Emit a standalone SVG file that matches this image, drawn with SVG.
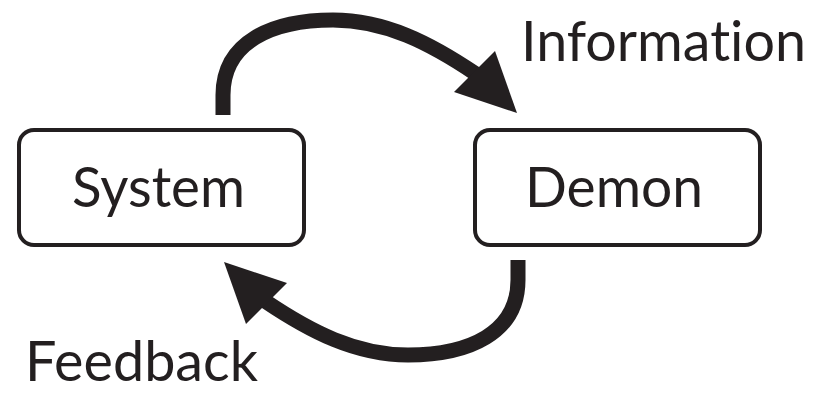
<svg xmlns="http://www.w3.org/2000/svg" width="815" height="393" viewBox="0 0 815 393">
<style>
.box{fill:#fff;stroke:#231f20;stroke-width:4}
.lbl{font-family:Lato,"Open Sans","Liberation Sans",sans-serif;font-size:56px;fill:#231f20;font-variant-ligatures:none;font-feature-settings:"liga" 0,"clig" 0,"dlig" 0}
.shaft{fill:none;stroke:#231f20;stroke-width:15}
.head{fill:#231f20}
</style>
<rect width="815" height="393" fill="#fff"/>
<g id="connectors">
<g id="information-arrow">
<path class="shaft" d="M223,115 L223,95 C223,42 272,20 333,20 C385,20 430,43 476,74"/>
<polygon class="head" points="517,113 495,51 454,92"/>
</g>
<g id="feedback-arrow">
<path class="shaft" d="M518,260 L518,280 C518,333 469,355 408,355 C356,355 311,332 265,301"/>
<polygon class="head" points="224,262 246,324 287,283"/>
</g>
<text class="lbl" x="521" y="61" textLength="285" lengthAdjust="spacingAndGlyphs">Information</text>
<text class="lbl" x="25" y="381" textLength="233" lengthAdjust="spacingAndGlyphs">Feedback</text>
</g>
<g id="system">
<rect class="box" x="19" y="130" width="285" height="115" rx="15"/>
<text class="lbl" x="72" y="207" textLength="173" lengthAdjust="spacingAndGlyphs">System</text>
</g>
<g id="demon">
<rect class="box" x="475" y="130" width="285" height="115" rx="15"/>
<text class="lbl" x="525" y="207" textLength="178" lengthAdjust="spacingAndGlyphs">Demon</text>
</g>
</svg>
